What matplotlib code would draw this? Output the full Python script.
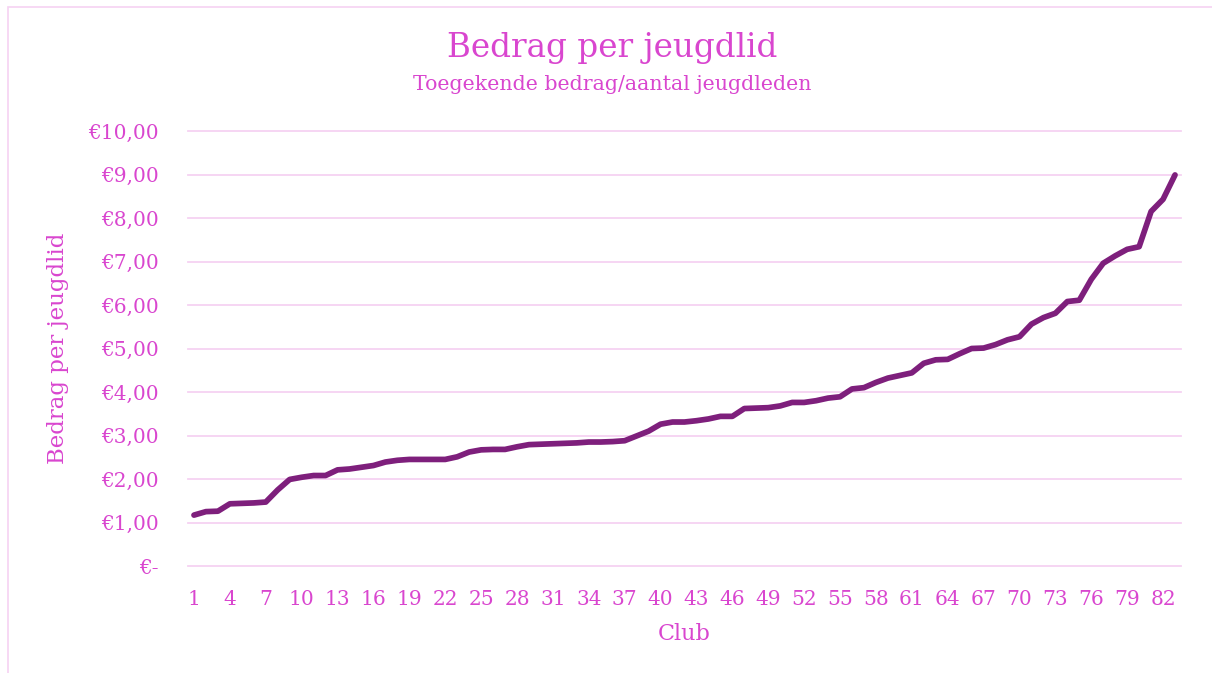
import matplotlib

matplotlib.use("Agg")
import matplotlib.pyplot as plt
from matplotlib.patches import Rectangle
from matplotlib.ticker import FixedLocator, FuncFormatter

# bedrag per jeugdlid per club, gesorteerd (EUR)
clubs = list(range(1, 84))
bedrag = [
    1.17, 1.25, 1.26, 1.43, 1.44, 1.45, 1.47, 1.75, 1.99, 2.04,
    2.08, 2.08, 2.21, 2.23, 2.27, 2.31, 2.39, 2.43, 2.45, 2.45,
    2.45, 2.45, 2.51, 2.62, 2.67, 2.68, 2.68, 2.74, 2.79, 2.80,
    2.81, 2.82, 2.83, 2.85, 2.85, 2.86, 2.88, 2.99, 3.10, 3.26,
    3.31, 3.31, 3.34, 3.38, 3.44, 3.44, 3.62, 3.63, 3.64, 3.68,
    3.76, 3.76, 3.80, 3.86, 3.89, 4.07, 4.10, 4.22, 4.32, 4.38,
    4.44, 4.66, 4.74, 4.75, 4.88, 5.00, 5.01, 5.09, 5.20, 5.27,
    5.56, 5.71, 5.81, 6.08, 6.11, 6.59, 6.96, 7.13, 7.28, 7.34,
    8.15, 8.43, 8.99,
]
x_ticks = list(range(1, 84, 3))
y_ticks = list(range(0, 11))

text_color = "#d946cf"
grid_color = "#f6d2f2"
line_color = "#7e1f7c"

plt.rcParams["font.family"] = ["DejaVu Serif"]

fig = plt.figure(figsize=(12.12, 6.73), dpi=100)
fig.patches.append(
    Rectangle((8 / 1212, -0.05), 1.1, 1.05 - 7 / 673, transform=fig.transFigure,
              fill=False, edgecolor=grid_color, linewidth=1.2)
)

ax = fig.add_axes([188 / 1212, 107 / 673, 993 / 1212, 435 / 673])
ax.plot(clubs, bedrag, color=line_color, linewidth=4.1, solid_capstyle="round", zorder=3)

ax.set_xlim(0.5, 83.5)
ax.set_ylim(0, 10)
ax.xaxis.set_major_locator(FixedLocator(x_ticks))
ax.yaxis.set_major_locator(FixedLocator(y_ticks))


def euro(value, _pos):
    if value == 0:
        return "€-"
    return f"€{value:.2f}".replace(".", ",")


ax.yaxis.set_major_formatter(FuncFormatter(euro))
ax.grid(axis="y", color=grid_color, linewidth=1.3)
for line in ax.get_ygridlines():
    line.set_clip_on(False)
ax.set_axisbelow(True)
for spine in ax.spines.values():
    spine.set_visible(False)
ax.tick_params(axis="both", length=0, labelsize=14.5, labelcolor=text_color)
ax.tick_params(axis="y", pad=21)
ax.tick_params(axis="x", pad=17)

ax.set_xlabel("Club", fontsize=16, color=text_color, labelpad=10)
ax.set_ylabel("Bedrag per jeugdlid", fontsize=16.5, color=text_color, labelpad=14)

fig.text(0.505, (673 - 48) / 673, "Bedrag per jeugdlid", fontsize=23.5,
         color=text_color, ha="center", va="center")
fig.text(0.505, (673 - 84) / 673, "Toegekende bedrag/aantal jeugdleden", fontsize=14.8,
         color=text_color, ha="center", va="center")

fig.savefig("out.png", dpi=100)
